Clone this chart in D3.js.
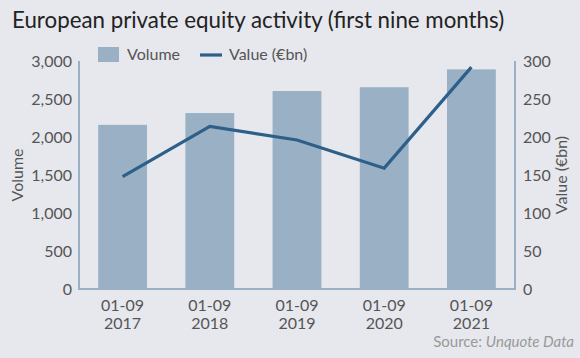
<!DOCTYPE html>
<html><head><meta charset="utf-8">
<script src="https://cdn.jsdelivr.net/npm/d3@7"></script>
<style>
html,body{margin:0;padding:0;background:#e6e8ed;}
svg{display:block;font-family:Lato,"Open Sans",sans-serif;}
</style></head><body>
<svg id="c" width="580" height="358"></svg>
<script>
const categories = ["2017","2018","2019","2020","2021"];
const periodLabel = "01-09";
const volume = [2160, 2315, 2605, 2655, 2890];
const value = [148, 214, 196, 159, 292];
const leftTicks = [0,500,1000,1500,2000,2500,3000];
const rightTicks = [0,50,100,150,200,250,300];

const svg = d3.select("#c");
const m = {l:79, r:515, t:61, b:289};
const barC = "#9ab1c5", lineC = "#2d5f88", axC = "#9ab1c5", txt = "#555";
const fs = 16;

svg.append("rect").attr("width",580).attr("height",358).attr("fill","#e6e8ed");

const x = d3.scaleBand().domain(categories).range([m.l,m.r]).paddingInner(0.44).paddingOuter(0.22);
const yL = d3.scaleLinear().domain([0,3000]).range([m.b,m.t]);
const yR = d3.scaleLinear().domain([0,300]).range([m.b,m.t]);

svg.append("text").attr("x",12).attr("y",28).attr("font-size",22.3).attr("fill","#222")
  .text("European private equity activity (first nine months)");

// bars
svg.selectAll("rect.bar").data(categories).join("rect").attr("class","bar")
  .attr("x",d=>x(d)).attr("width",x.bandwidth())
  .attr("y",(d,i)=>yL(volume[i])).attr("height",(d,i)=>m.b-yL(volume[i]))
  .attr("fill",barC);

// line
const line = d3.line().x((d,i)=>x(categories[i])+x.bandwidth()/2).y(d=>yR(d));
svg.append("path").datum(value).attr("d",line).attr("fill","none")
  .attr("stroke",lineC).attr("stroke-width",3.2).attr("stroke-linejoin","miter");

// axes
const axL = d3.axisLeft(yL).tickValues(leftTicks).tickSize(0).tickPadding(7).tickFormat(d3.format(","));
const gL = svg.append("g").attr("transform",`translate(${m.l},0)`).call(axL);
const axR = d3.axisRight(yR).tickValues(rightTicks).tickSize(0).tickPadding(8);
const gR = svg.append("g").attr("transform",`translate(${m.r},0)`).call(axR);
[gL,gR].forEach(g=>{
  g.select(".domain").remove();
  g.selectAll("text").attr("font-size",fs).attr("fill",txt).attr("font-family","Lato,sans-serif");
});
svg.append("line").attr("x1",m.l).attr("x2",m.l).attr("y1",m.t).attr("y2",m.b).attr("stroke",axC).attr("stroke-width",2);
svg.append("line").attr("x1",m.r).attr("x2",m.r).attr("y1",m.t).attr("y2",m.b).attr("stroke",axC).attr("stroke-width",2);
svg.append("line").attr("x1",m.l-1).attr("x2",m.r+1).attr("y1",m.b).attr("y2",m.b).attr("stroke",axC).attr("stroke-width",2);

// x labels
const xl = svg.append("g");
categories.forEach(c=>{
  const cx = x(c)+x.bandwidth()/2;
  const t = xl.append("text").attr("x",cx).attr("text-anchor","middle").attr("font-size",fs).attr("fill",txt);
  t.append("tspan").attr("x",cx).attr("y",311).text(periodLabel);
  t.append("tspan").attr("x",cx).attr("y",329).text(c);
});

// axis titles
svg.append("text").attr("transform","translate(23,175) rotate(-90)").attr("text-anchor","middle")
  .attr("font-size",fs).attr("fill",txt).text("Volume");
svg.append("text").attr("transform","translate(567,175) rotate(-90)").attr("text-anchor","middle")
  .attr("font-size",fs).attr("fill",txt).text("Value (€bn)");

// legend
svg.append("rect").attr("x",98).attr("y",47).attr("width",21).attr("height",15).attr("fill",barC);
svg.append("text").attr("x",127).attr("y",60).attr("font-size",fs).attr("fill",txt).text("Volume");
svg.append("line").attr("x1",200).attr("x2",222).attr("y1",55).attr("y2",55).attr("stroke",lineC).attr("stroke-width",3.2);
svg.append("text").attr("x",229).attr("y",60).attr("font-size",fs).attr("fill",txt).text("Value (€bn)");

// source
const s = svg.append("text").attr("x",574).attr("y",347).attr("text-anchor","end").attr("font-size",15).attr("fill","#999");
s.append("tspan").text("Source: ");
s.append("tspan").attr("font-style","italic").text("Unquote Data");
</script></body></html>
